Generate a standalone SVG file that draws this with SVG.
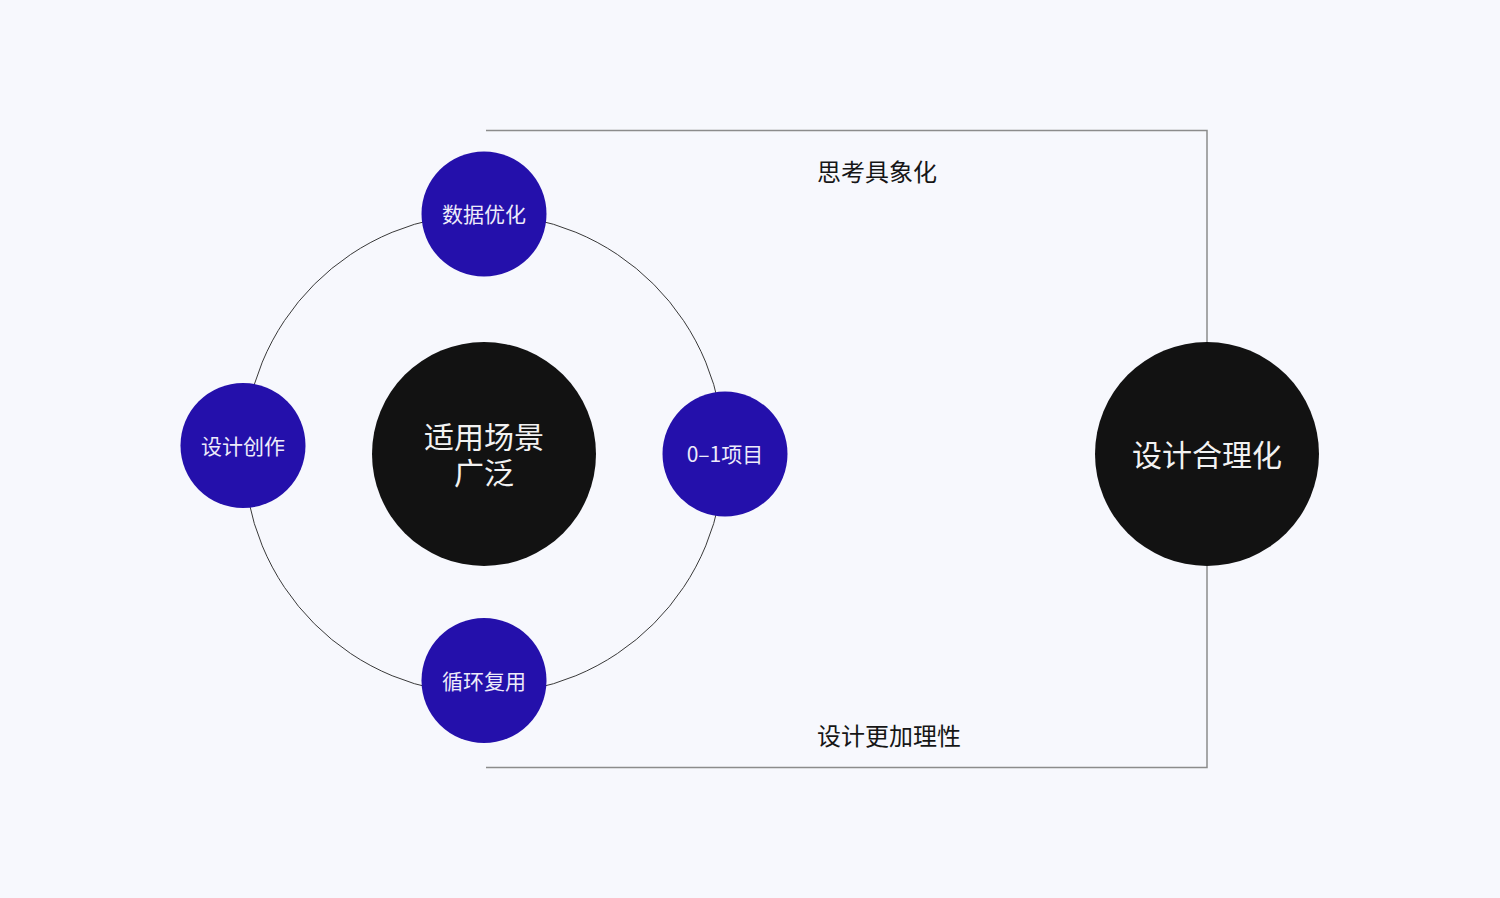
<svg xmlns="http://www.w3.org/2000/svg" width="1500" height="898" viewBox="0 0 1500 898">
<style>
.bg{fill:#F7F8FD}
.ring{fill:none;stroke:#3a3a3a;stroke-width:1}
.conn{fill:none;stroke:#8c8c8c;stroke-width:1.5}
.blue{fill:#2410AB}
.black{fill:#121212}
.t{font-family:"Noto Sans CJK SC","Noto Sans",sans-serif;text-anchor:middle;dominant-baseline:central}
.sm{font-size:21px;fill:#EDEBFA}
.lg{font-size:30px;fill:#F2F2F2}
.lbl{font-size:24px;fill:#161616;text-anchor:start}
</style>
<rect class="bg" x="0" y="0" width="1500" height="898"/>
<g id="connectors">
<circle class="ring" cx="484" cy="454" r="240"/>
<polyline class="conn" points="486,130.5 1207,130.5 1207,342"/>
<polyline class="conn" points="1207,566 1207,767.5 486,767.5"/>
</g>
<g id="label-top"><text class="t lbl" x="817" y="170">思考具象化</text></g>
<g id="label-bottom"><text class="t lbl" x="817" y="734">设计更加理性</text></g>
<g id="node-center">
<circle class="black" cx="484" cy="454" r="112"/>
<text class="t lg" x="484" y="435"><tspan x="484" y="435">适用场景</tspan><tspan x="484" y="471">广泛</tspan></text>
</g>
<g id="node-top">
<circle class="blue" cx="484" cy="214" r="62.5"/>
<text class="t sm" x="484" y="213">数据优化</text>
</g>
<g id="node-left">
<circle class="blue" cx="243" cy="445.5" r="62.5"/>
<text class="t sm" x="243" y="444.5">设计创作</text>
</g>
<g id="node-right">
<circle class="blue" cx="725" cy="454" r="62.5"/>
<text class="t sm" x="725" y="453">0–1项目</text>
</g>
<g id="node-bottom">
<circle class="blue" cx="484" cy="680.5" r="62.5"/>
<text class="t sm" x="484" y="679.5">循环复用</text>
</g>
<g id="node-right-big">
<circle class="black" cx="1207" cy="454" r="112"/>
<text class="t lg" x="1207" y="453">设计合理化</text>
</g>
</svg>
